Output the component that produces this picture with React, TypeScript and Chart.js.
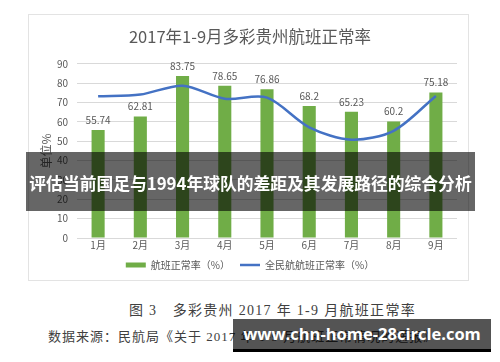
import React, { useEffect, useRef } from "react";
import { Chart, registerables } from "chart.js";

Chart.register(...registerables);

const months = ["1月", "2月", "3月", "4月", "5月", "6月", "7月", "8月", "9月"];
const flightRate = [55.74, 62.81, 83.75, 78.65, 76.86, 68.2, 65.23, 60.2, 75.18];
const nationalRate = [73.2, 74.1, 78.7, 72.0, 72.5, 57.2, 50.8, 55.4, 73.4];
const yMin = 0;
const yMax = 90;
const yStep = 10;
const chartTitle = "2017年1-9月多彩贵州航班正常率";
const yAxisTitle = "单位%";
const barSeriesName = "航班正常率（%）";
const lineSeriesName = "全民航航班正常率（%）";
const bannerText = "评估当前国足与1994年球队的差距及其发展路径的综合分析";
const captionText = "图 3　多彩贵州 2017 年 1-9 月航班正常率";
const sourceText = "数据来源：民航局《关于 2017 年 1-9 月航班正常情况的通报》";
const watermarkText = "www.chn-home-28circle.com";

const CJK = "'Noto Sans CJK SC', 'Noto Sans', sans-serif";
const GRAY = "#595959";

const barLabelsPlugin = {
  id: "barLabels",
  afterLayout(chart: any) {
    // let x tick labels extend below the compact axis box without being clipped
    const xs = chart.scales.x;
    if (xs) xs.bottom = xs.bottom + 10;
  },
  afterDatasetsDraw(chart: any) {
    const meta = chart.getDatasetMeta(0);
    const ctx = chart.ctx;
    ctx.save();
    ctx.font = `10px ${CJK}`;
    ctx.fillStyle = GRAY;
    ctx.textAlign = "center";
    ctx.textBaseline = "middle";
    meta.data.forEach((bar: any, i: number) => {
      ctx.fillText(String(flightRate[i]), bar.x, bar.y - 10);
    });
    ctx.restore();
  },
};

export default function App() {
  const canvasRef = useRef<HTMLCanvasElement | null>(null);

  useEffect(() => {
    if (!canvasRef.current) return;
    const chart = new Chart(canvasRef.current, {
      type: "bar",
      data: {
        labels: months,
        datasets: [
          {
            type: "bar",
            label: barSeriesName,
            data: flightRate,
            backgroundColor: "#70ad47",
            borderWidth: 0,
            barPercentage: 0.31,
            categoryPercentage: 1,
            pointStyle: "rect",
            order: 1,
          } as any,
          {
            type: "line",
            label: lineSeriesName,
            data: nationalRate,
            borderColor: "#4472c4",
            backgroundColor: "#4472c4",
            borderWidth: 2.5,
            pointRadius: 0,
            tension: 0.3,
            pointStyle: "line",
            order: 0,
          } as any,
        ],
      },
      options: {
        responsive: false,
        animation: false,
        layout: { padding: { left: 14, right: 11, top: 0, bottom: 0 } },
        plugins: {
          title: {
            display: true,
            text: chartTitle,
            color: GRAY,
            font: { family: CJK, size: 16.5, weight: "normal" },
            padding: { top: 12, bottom: 17 },
          },
          legend: {
            display: true,
            position: "bottom",
            labels: {
              usePointStyle: true,
              pointStyleWidth: 20,
              boxHeight: 5,
              color: GRAY,
              font: { family: CJK, size: 10 },
              padding: 10,
              sort: (a: any, b: any) => a.datasetIndex - b.datasetIndex,
            },
          },
          tooltip: { enabled: false },
        },
        scales: {
          x: {
            grid: { display: false, drawTicks: false },
            border: { display: false },
            ticks: { color: GRAY, font: { family: CJK, size: 10 }, padding: 1 },
            afterFit: (scale: any) => {
              scale.height = 12;
            },
          },
          y: {
            min: yMin,
            max: yMax,
            ticks: { stepSize: yStep, color: GRAY, font: { family: CJK, size: 10 }, padding: 9 },
            grid: { color: "#d9d9d9", drawTicks: false },
            border: { display: false },
            title: {
              display: true,
              text: yAxisTitle,
              color: GRAY,
              font: { family: CJK, size: 12 },
              padding: { top: -4, bottom: 0 },
            },
            afterFit: (scale: any) => {
              scale.width = 34;
            },
          },
        },
      },
      plugins: [barLabelsPlugin],
    });
    return () => chart.destroy();
  }, []);

  return (
    <div
      style={{
        position: "absolute",
        left: 0,
        top: 0,
        width: 500,
        height: 362,
        background: "#ffffff",
        overflow: "hidden",
      }}
    >
      <div
        style={{
          position: "absolute",
          left: 28,
          top: 14,
          width: 439,
          height: 265,
          border: "1px solid #e3e3e3",
        }}
      >
        <canvas ref={canvasRef} width={439} height={265} style={{ display: "block" }} />
      </div>
      <div
        style={{
          position: "absolute",
          left: 26,
          top: 152,
          width: 449,
          height: 59,
          background: "rgba(0,0,0,0.6)",
        }}
      >
        <div
          style={{
            position: "absolute",
            left: -20,
            right: -20,
            top: 2,
            height: 59,
            color: "#ffffff",
            fontFamily: CJK,
            fontWeight: 700,
            fontSize: 16.8,
            lineHeight: "59px",
            textAlign: "center",
            whiteSpace: "nowrap",
          }}
        >
          {bannerText}
        </div>
      </div>
      <div
        style={{
          position: "absolute",
          left: 0,
          width: 545,
          top: 301,
          textAlign: "center",
          fontFamily: "'Liberation Serif', 'Noto Sans CJK SC', serif",
          fontSize: 14,
          lineHeight: "20px",
          color: "#404040",
          letterSpacing: 1.3,
          whiteSpace: "nowrap",
        }}
      >
        {captionText}
      </div>
      <div
        style={{
          position: "absolute",
          left: 48,
          top: 327,
          fontFamily: "'Liberation Serif', 'Noto Sans CJK SC', serif",
          fontSize: 13,
          lineHeight: "20px",
          color: "#404040",
          letterSpacing: 1,
          whiteSpace: "nowrap",
        }}
      >
        {sourceText}
      </div>
      <div
        style={{
          position: "absolute",
          left: 233,
          top: 319,
          width: 258,
          height: 30,
          background: "rgba(0,0,0,0.67)",
          color: "#ffffff",
          fontFamily: "'Open Sans', 'Noto Sans', sans-serif",
          fontWeight: 700,
          fontSize: 16.5,
          lineHeight: "30px",
          textAlign: "center",
          whiteSpace: "nowrap",
        }}
      >
        {watermarkText}
      </div>
      <div
        style={{
          position: "absolute",
          left: 233,
          top: 349,
          width: 258,
          height: 3,
          background: "#000000",
        }}
      />
    </div>
  );
}
